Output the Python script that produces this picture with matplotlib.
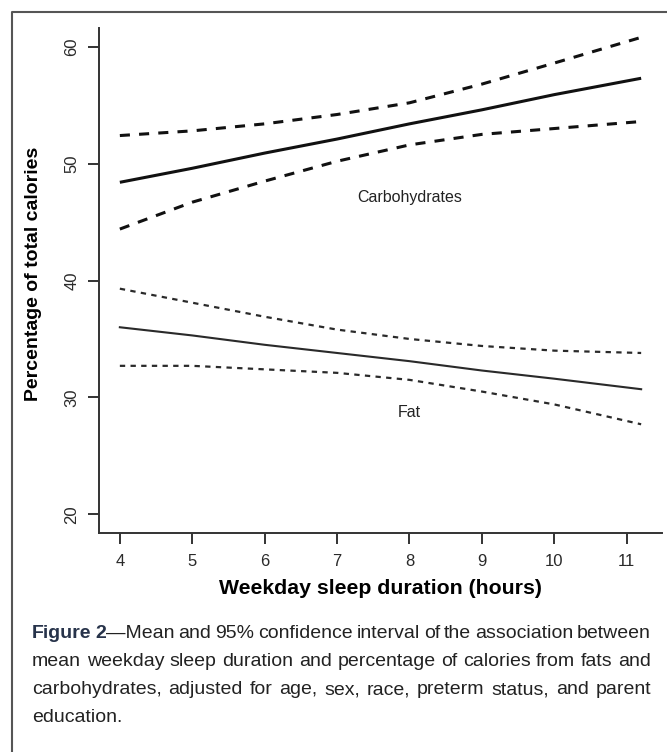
import matplotlib
matplotlib.use('Agg')
import matplotlib.pyplot as plt
from matplotlib import font_manager
from matplotlib.lines import Line2D

# --- data -----------------------------------------------------------------
sleep_hours = [4, 5, 6, 7, 8, 9, 10, 11.2]

carb_mean = [48.4, 49.6, 50.9, 52.1, 53.4, 54.6, 55.9, 57.3]
carb_upper = [52.4, 52.8, 53.4, 54.2, 55.2, 56.8, 58.6, 60.8]
carb_lower = [44.4, 46.7, 48.5, 50.2, 51.6, 52.5, 53.0, 53.6]

fat_mean = [36.0, 35.3, 34.5, 33.8, 33.1, 32.3, 31.6, 30.7]
fat_upper = [39.3, 38.1, 36.9, 35.8, 35.0, 34.4, 34.0, 33.8]
fat_lower = [32.7, 32.7, 32.4, 32.1, 31.5, 30.5, 29.4, 27.7]

x_ticks = [4, 5, 6, 7, 8, 9, 10, 11]
y_ticks = [20, 30, 40, 50, 60]

caption_lines = [
    [[('Figure', 'bold')], [('2', 'bold'), ('\u2014Mean', 'normal')],
     'and 95% confidence interval of the association between'],
    'mean weekday sleep duration and percentage of calories from fats and',
    'carbohydrates, adjusted for age, sex, race, preterm status, and parent',
    'education.',
]

# --- fonts -----------------------------------------------------------------
avail = {f.name for f in font_manager.fontManager.ttflist}
sans = 'Liberation Sans' if 'Liberation Sans' in avail else 'DejaVu Sans'
narrow = 'Liberation Sans Narrow' if 'Liberation Sans Narrow' in avail else sans
plt.rcParams['font.family'] = sans

fig = plt.figure(figsize=(6.67, 7.52), dpi=100)
ax = fig.add_axes([99 / 667, 1 - 533 / 752, (662 - 99) / 667, (533 - 28) / 752])

axis_col = '#333333'
ax.plot(sleep_hours, carb_mean, color='#111111', lw=2.2, solid_capstyle='butt')
ax.plot(sleep_hours, carb_upper, color='#111111', lw=2.2, dashes=(3.3, 3.0),
        dash_capstyle='butt')
ax.plot(sleep_hours, carb_lower, color='#111111', lw=2.2, dashes=(3.3, 3.0),
        dash_capstyle='butt')

ax.plot(sleep_hours, fat_mean, color='#2a2a2a', lw=1.5)
ax.plot(sleep_hours, fat_upper, color='#2a2a2a', lw=1.6, dashes=(2.4, 2.4),
        dash_capstyle='butt')
ax.plot(sleep_hours, fat_lower, color='#2a2a2a', lw=1.6, dashes=(2.4, 2.4),
        dash_capstyle='butt')

ax.text(8.0, 47.1, 'Carbohydrates', ha='center', va='center', fontsize=11.5,
        color='#222222')
ax.text(8.0, 28.7, 'Fat', ha='center', va='center', fontsize=11.5,
        color='#222222')

ax.set_xlim(3.712, 11.488)
ax.set_ylim(18.4, 61.6)
ax.set_xticks(x_ticks)
ax.set_yticks(y_ticks)
ax.set_yticklabels([str(v) for v in y_ticks], rotation=90, va='center')
ax.tick_params(axis='both', direction='out', length=8, width=1.4,
               color=axis_col, labelsize=12, labelcolor='#2a2a2a')
ax.tick_params(axis='x', pad=7)
ax.tick_params(axis='y', pad=6)
for side in ('top', 'right'):
    ax.spines[side].set_visible(False)
for side in ('left', 'bottom'):
    ax.spines[side].set_linewidth(1.4)
    ax.spines[side].set_color(axis_col)

ax.set_xlabel('Weekday sleep duration (hours)', fontsize=15.3,
              fontweight='bold', labelpad=7)
ax.set_ylabel('Percentage of total calories', fontsize=14, fontweight='bold')
ax.yaxis.set_label_coords(-0.101, 0.513)

# outer frame (only top and left visible, as in the clipped reference)
fx, fy = 12 / 667, 1 - 12 / 752
fig.add_artist(Line2D([fx, fx, 1.0], [0.0, fy, fy], transform=fig.transFigure,
                      color='#555555', lw=1.5))

# --- justified caption -------------------------------------------------------
fig.canvas.draw()
renderer = fig.canvas.get_renderer()
left_px, right_px = 32, 651
line_y = [634, 662, 690, 718]
cap_size = 14
cap_colors = {'bold': '#27334a', 'normal': '#222222'}


def words_of(line):
    out = []
    if isinstance(line, str):
        line = [line]
    for item in line:
        if isinstance(item, str):
            out.extend([[(w, 'normal')] for w in item.split()])
        else:
            out.append(item)
    return out


for i, line in enumerate(caption_lines):
    words = words_of(line)
    y = 1 - line_y[i] / 752
    placed = []
    widths = []
    for word in words:
        segs = []
        wsum = 0
        for txt, weight in word:
            t = fig.text(0, y, txt, fontsize=cap_size, fontweight=weight,
                         family=narrow, color=cap_colors[weight], va='center')
            w = t.get_window_extent(renderer).width
            segs.append((t, w))
            wsum += w
        placed.append(segs)
        widths.append(wsum)
    last = i == len(caption_lines) - 1
    if last or len(words) < 2:
        gap = fig.text(0, 0, ' ', fontsize=cap_size, family=narrow)
        gap_w = gap.get_window_extent(renderer).width
        gap.remove()
    else:
        gap_w = (right_px - left_px - sum(widths)) / (len(words) - 1)
    x = left_px
    for segs, w in zip(placed, widths):
        sx = x
        for t, sw in segs:
            t.set_x(sx / 667)
            sx += sw
        x += w + gap_w

fig.savefig('out.png', dpi=100)
